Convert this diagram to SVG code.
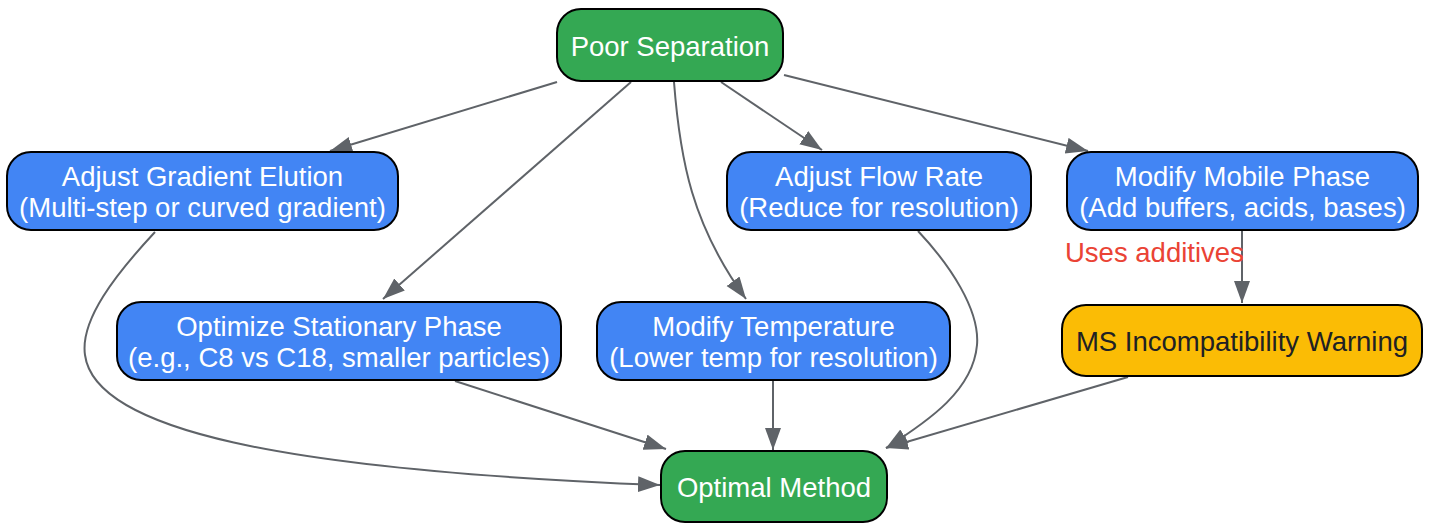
<svg xmlns="http://www.w3.org/2000/svg" width="1430" height="525" viewBox="0 0 1430 525">
<defs>
<marker id="ah" markerUnits="userSpaceOnUse" markerWidth="24" markerHeight="18" refX="22" refY="8" orient="auto">
<path d="M0,0 L22,8 L0,16 z" fill="#5F6368"/>
</marker>
<style>
.n rect{stroke:#000;stroke-width:2}
.g rect{fill:#34A853}
.b rect{fill:#4285F4}
.y rect{fill:#FBBC05}
text{font-family:"Liberation Sans",Arial,sans-serif;font-size:27.5px;text-anchor:middle}
.g text,.b text{fill:#fff}
.y text{fill:#202124}
.e path{fill:none;stroke:#5F6368;stroke-width:2;marker-end:url(#ah)}
.lbl{fill:#EA4335;text-anchor:start}
</style>
</defs>
<rect width="1430" height="525" fill="#fff"/>
<g id="edges" class="e">
<path d="M557,82 L330,151"/>
<path d="M631,82 L383,299"/>
<path d="M674,82 C680,160 692,225 746,299"/>
<path d="M721,82 L822,150"/>
<path d="M784,75 L1088,151"/>
<path d="M155,232 C115,275 80,320 85,355 C95,430 280,470 660,485"/>
<path d="M455,381 L666,449"/>
<path d="M773,381 L773,450"/>
<path d="M918,231 C950,265 980,310 977,345 C973,390 930,420 886,448"/>
<path d="M1128,377 L886,448"/>
<path d="M1242,231 L1242,303"/>
<text class="lbl" x="1065" y="262">Uses additives</text>
</g>
<g id="poor" class="n g"><rect x="557" y="9" width="226" height="72" rx="24"/><text x="670" y="56">Poor Separation</text></g>
<g id="gradient" class="n b"><rect x="7" y="152" width="391" height="78" rx="24"/><text x="202.5" y="186">Adjust Gradient Elution</text><text x="202.5" y="217">(Multi-step or curved gradient)</text></g>
<g id="flow" class="n b"><rect x="727" y="152" width="304" height="78" rx="24"/><text x="879" y="186">Adjust Flow Rate</text><text x="879" y="217">(Reduce for resolution)</text></g>
<g id="mobile" class="n b"><rect x="1067" y="152" width="351" height="78" rx="24"/><text x="1242.5" y="186">Modify Mobile Phase</text><text x="1242.5" y="217">(Add buffers, acids, bases)</text></g>
<g id="stationary" class="n b"><rect x="117" y="302" width="444" height="78" rx="24"/><text x="339" y="336">Optimize Stationary Phase</text><text x="339" y="367">(e.g., C8 vs C18, smaller particles)</text></g>
<g id="temperature" class="n b"><rect x="597" y="302" width="353" height="78" rx="24"/><text x="773.5" y="336">Modify Temperature</text><text x="773.5" y="367">(Lower temp for resolution)</text></g>
<g id="ms" class="n y"><rect x="1062" y="305" width="360" height="71" rx="24"/><text x="1242" y="351">MS Incompatibility Warning</text></g>
<g id="optimal" class="n g"><rect x="661" y="451" width="226" height="71" rx="24"/><text x="774" y="497">Optimal Method</text></g>
</svg>
